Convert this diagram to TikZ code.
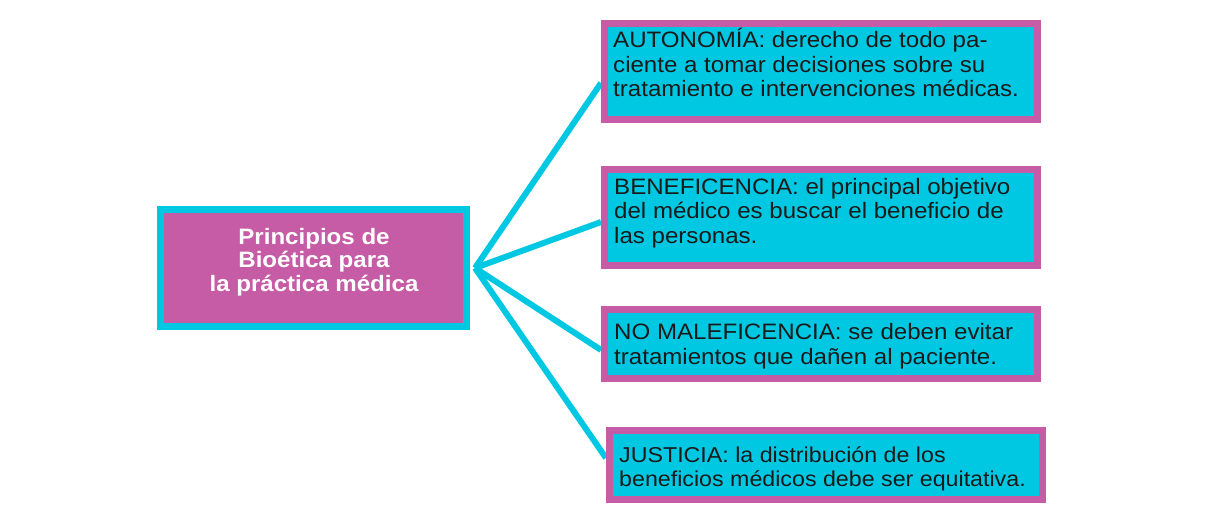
\documentclass[tikz,border=0pt]{standalone}
\usepackage{fontspec}
\setmainfont{Liberation Sans}[FakeStretch=1.08]
\usetikzlibrary{backgrounds}
\definecolor{cian}{RGB}{0,200,227}
\definecolor{magenta}{RGB}{198,91,166}
\definecolor{texto}{RGB}{26,26,26}
\tikzset{
  principal/.style={draw=cian, fill=magenta, line width=7pt, minimum width=306pt, minimum height=117pt, inner sep=0pt},
  rama/.style={draw=magenta, fill=cian, line width=7pt, minimum width=433pt, inner sep=0pt},
  ramatexto/.style={anchor=base west, align=left, inner sep=0pt, text=texto, font=\fontsize{22.3}{24.5}\selectfont},
  enlace/.style={draw=cian, line width=6pt}
}
\begin{document}
\begin{tikzpicture}[x=1pt, y=-1pt]
		\useasboundingbox (0,0) rectangle (1223,532);
		
		\node[principal] (bioetica) at (313.5,268) {};
		\node[anchor=base, align=center, inner sep=0pt, text=white, font=\bfseries\fontsize{22.3}{23.5}\selectfont] (bioeticatxt) at (314,291) {Principios de\\Bioética para\\la práctica médica};
		
		\node[rama, minimum height=96pt] (autonomia) at (821,71.5) {};
		\node[rama, minimum height=96pt] (beneficencia) at (821,217.5) {};
		\node[rama, minimum height=69pt] (nomaleficencia) at (821,344) {};
		\node[rama, minimum height=69pt] (justicia) at (826,465) {};
		
		\node[ramatexto] (autonomiatxt) at (613,97) {AUTONOMÍA: derecho de todo pa-\\ciente a tomar decisiones sobre su\\tratamiento e intervenciones médicas.};
		\node[ramatexto] (beneficenciatxt) at (614,243) {BENEFICENCIA: el principal objetivo\\del médico es buscar el beneficio de\\las personas.};
		\node[ramatexto] (nomaleficenciatxt) at (614,364) {NO MALEFICENCIA: se deben evitar\\tratamientos que dañen al paciente.};
		\node[ramatexto, font=\fontsize{21.5}{24}\selectfont] (justiciatxt) at (619,486) {JUSTICIA: la distribución de los\\beneficios médicos debe ser equitativa.};
		
		\begin{scope}[on background layer]
		\coordinate (centro) at ([xshift=5pt]bioetica.east);
		\draw[enlace] (centro) -- ([yshift=-11.5pt]autonomia.west);
		\draw[enlace] (centro) -- ([yshift=-4.5pt]beneficencia.west);
		\draw[enlace] (centro) -- ([yshift=-6pt]nomaleficencia.west);
		\draw[enlace] (centro) -- ([yshift=7pt]justicia.west);
		\end{scope}
\end{tikzpicture}
\end{document}
